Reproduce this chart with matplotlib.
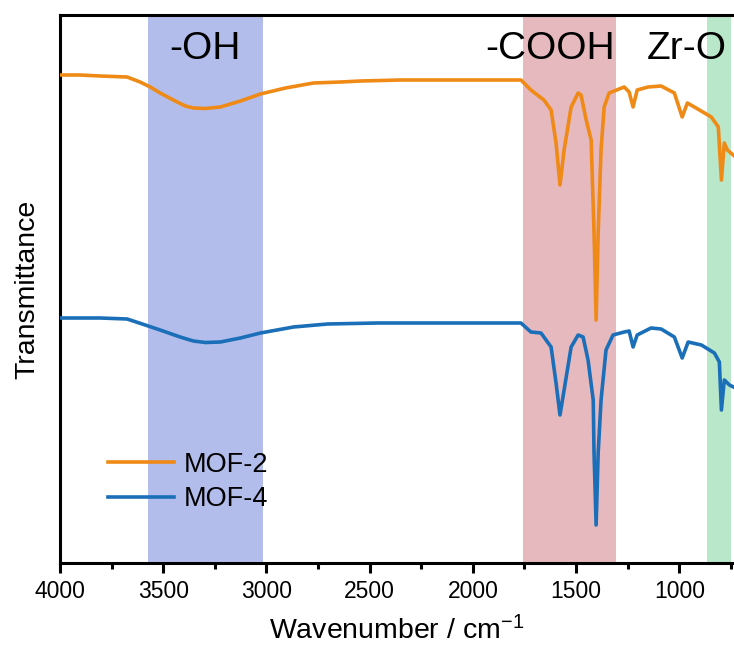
import matplotlib
matplotlib.use("Agg")
import matplotlib.pyplot as plt
from matplotlib.ticker import MultipleLocator

plt.rcParams['font.family'] = ['Liberation Sans', 'DejaVu Sans']
plt.rcParams['mathtext.fontset'] = 'custom'
plt.rcParams['mathtext.rm'] = 'Liberation Sans'
plt.rcParams['mathtext.it'] = 'Liberation Sans:italic'
plt.rcParams['mathtext.bf'] = 'Liberation Sans:bold'

# ---- data (arbitrary transmittance units) ----
mof2_wn = [4000, 3903, 3806, 3675, 3612, 3563, 3515, 3442, 3393, 3354,
           3296, 3223, 3126, 3029, 2908, 2772, 2641, 2544, 2350, 2058,
           1961, 1767, 1719, 1656,
           1621, 1597, 1578, 1558, 1524, 1490, 1476, 1451, 1427, 1413,
           1403, 1393, 1379, 1364, 1340, 1316, 1267, 1243, 1224, 1204,
           1151, 1088, 1024, 986, 961, 927, 845, 811, 796, 782,
           767, 728]
mof2_t = [4.88, 4.88, 4.87, 4.86, 4.81, 4.76, 4.70, 4.62, 4.57, 4.55,
          4.545, 4.56, 4.62, 4.69, 4.75, 4.80, 4.81, 4.82, 4.83, 4.83,
          4.83, 4.83, 4.73, 4.63,
          4.53, 4.20, 3.78, 4.13, 4.56, 4.70, 4.68, 4.43, 4.23, 3.30,
          2.43, 3.30, 4.13, 4.56, 4.70, 4.72, 4.76, 4.71, 4.56, 4.73,
          4.76, 4.77, 4.70, 4.46, 4.60, 4.56, 4.46, 4.36, 3.83, 4.20,
          4.13, 4.06]

mof4_wn = [4000, 3806, 3675, 3587, 3515, 3418, 3354, 3296, 3223, 3126,
           3029, 2869, 2704, 2461,
           1961, 1767, 1719, 1670, 1621, 1597, 1578, 1558, 1524, 1490,
           1466, 1442, 1417, 1413, 1403, 1393, 1379, 1355, 1321, 1267,
           1243, 1224, 1204, 1137, 1088, 1024, 986, 957, 893, 830,
           806, 796, 782, 757, 728]
mof4_t = [2.45, 2.45, 2.44, 2.38, 2.33, 2.26, 2.22, 2.205, 2.21, 2.25,
          2.30, 2.36, 2.39, 2.40,
          2.40, 2.40, 2.31, 2.30, 2.16, 1.80, 1.48, 1.73, 2.16, 2.28,
          2.26, 2.03, 1.63, 1.10, 0.38, 1.10, 1.63, 2.13, 2.28, 2.31,
          2.32, 2.16, 2.28, 2.35, 2.34, 2.26, 2.05, 2.21, 2.18, 2.10,
          2.01, 1.53, 1.83, 1.78, 1.75]

series_labels = ["MOF-2", "MOF-4"]
band_labels = ["-OH", "-COOH", "Zr-O"]
band_ranges = [(3573, 3019), (1757, 1306), (864, 748)]
band_label_x = [3300, 1625, 965]
x_ticks = [4000, 3500, 3000, 2500, 2000, 1500, 1000]

# ---- styling ----
line_colors = ["#EF8A17", "#1A6FB8"]
band_colors = ["#B3BDEC", "#E6B9BE", "#B9E7C9"]

W, H = 734, 655
fig = plt.figure(figsize=(W / 100, H / 100), dpi=100)
ax = fig.add_axes([60 / W, (H - 563) / H, (W - 60) / W, (563 - 15) / H])

for (a, b), c in zip(band_ranges, band_colors):
    ax.axvspan(a, b, color=c, lw=0, zorder=0)

ax.plot(mof2_wn, mof2_t, color=line_colors[0], lw=2.6, label=series_labels[0],
        zorder=3, solid_joinstyle='round')
ax.plot(mof4_wn, mof4_t, color=line_colors[1], lw=2.6, label=series_labels[1],
        zorder=3, solid_joinstyle='round')

for txt, xx in zip(band_labels, band_label_x):
    ax.text(xx, 5.14, txt, fontsize=28, ha='center', va='center', zorder=4)

ax.set_xlim(4000, 735)
ax.set_ylim(0, 5.48)
ax.set_xticks(x_ticks)
ax.xaxis.set_minor_locator(MultipleLocator(250))
ax.set_yticks([])

for s in ['left', 'bottom', 'top']:
    ax.spines[s].set_linewidth(2.2)
ax.spines['right'].set_visible(False)
ax.tick_params(axis='x', which='major', direction='out', length=7, width=2.2, labelsize=16.5, pad=5)
ax.tick_params(axis='x', which='minor', direction='out', length=4, width=2.2)

ax.set_xlabel("Wavenumber / cm$^{-1}$", fontsize=20.5, labelpad=10)
ax.set_ylabel("Transmittance", fontsize=20.5, labelpad=14)

ax.legend(loc='center left', bbox_to_anchor=((108 - 60) / 674, (563 - 482) / 548),
          frameon=False, fontsize=19.5, handlelength=2.45, handletextpad=0.33,
          labelspacing=0.3, borderpad=0, borderaxespad=0)

fig.savefig("out.png", dpi=100)
